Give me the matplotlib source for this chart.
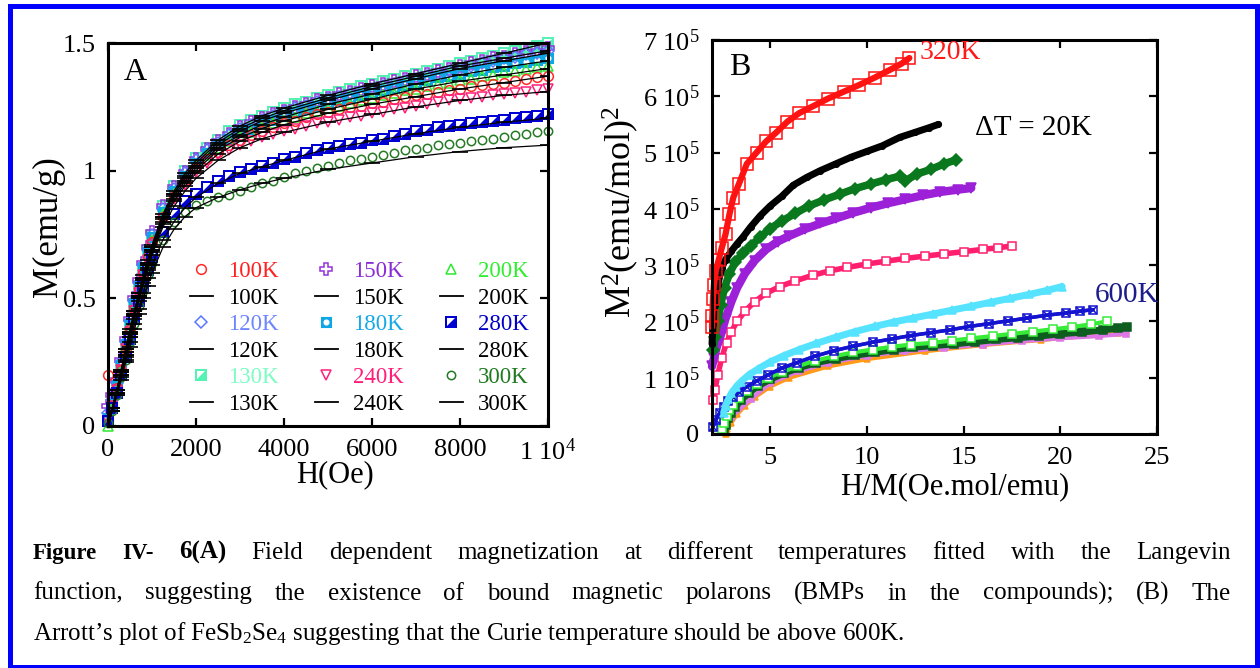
import matplotlib

matplotlib.use("Agg")
import matplotlib.pyplot as plt
import numpy as np
from matplotlib.path import Path
from matplotlib.patches import Rectangle
from matplotlib.lines import Line2D

plt.rcParams.update({
    "font.family": ["Liberation Serif", "DejaVu Serif"],
    "mathtext.fontset": "custom",
    "mathtext.rm": "Liberation Serif",
    "mathtext.it": "Liberation Serif:italic",
    "mathtext.bf": "Liberation Serif:bold",
})

# ---- panel A: M(H) at several temperatures, with Langevin fits ----
H_A = [0, 100, 200, 300, 400, 500, 600, 700, 800, 900, 1000, 1250, 1500, 1750,
       2000, 2250, 2500, 2750, 3000, 3250, 3500, 3750, 4000, 4250, 4500, 4750,
       5000, 5250, 5500, 5750, 6000, 6250, 6500, 6750, 7000, 7250, 7500, 7750,
       8000, 8250, 8500, 8750, 9000, 9250, 9500, 9750, 10000]

M_100K = [0.20, 0.08, 0.15, 0.22, 0.30, 0.38, 0.46, 0.53, 0.60, 0.66, 0.72, 0.82, 0.90, 0.96,
          1.01, 1.045, 1.075, 1.10, 1.12, 1.14, 1.155, 1.17, 1.185, 1.195, 1.21, 1.22,
          1.23, 1.24, 1.25, 1.255, 1.265, 1.27, 1.28, 1.29, 1.295, 1.30, 1.31, 1.315,
          1.32, 1.33, 1.335, 1.34, 1.345, 1.35, 1.36, 1.365, 1.37]
M_120K = [0.05, 0.10, 0.17, 0.25, 0.33, 0.41, 0.49, 0.56, 0.63, 0.69, 0.75, 0.85, 0.93, 0.99,
          1.04, 1.08, 1.11, 1.14, 1.165, 1.18, 1.20, 1.215, 1.23, 1.245, 1.255, 1.27,
          1.28, 1.29, 1.30, 1.31, 1.32, 1.33, 1.34, 1.35, 1.36, 1.37, 1.38, 1.39,
          1.40, 1.41, 1.42, 1.43, 1.44, 1.445, 1.455, 1.46, 1.47]
M_130K = [0.02, 0.08, 0.15, 0.23, 0.31, 0.39, 0.47, 0.55, 0.62, 0.69, 0.75, 0.86, 0.94, 1.00,
          1.05, 1.09, 1.12, 1.155, 1.18, 1.20, 1.215, 1.23, 1.245, 1.26, 1.27, 1.285,
          1.295, 1.31, 1.32, 1.33, 1.34, 1.35, 1.36, 1.37, 1.38, 1.39, 1.40, 1.41,
          1.42, 1.43, 1.44, 1.45, 1.46, 1.47, 1.48, 1.49, 1.50]
M_150K = [0.08, 0.12, 0.18, 0.26, 0.34, 0.42, 0.50, 0.57, 0.64, 0.70, 0.76, 0.86, 0.935, 0.995,
          1.045, 1.085, 1.115, 1.145, 1.17, 1.19, 1.205, 1.22, 1.235, 1.25, 1.26, 1.275,
          1.285, 1.30, 1.31, 1.32, 1.33, 1.34, 1.35, 1.36, 1.37, 1.38, 1.39, 1.40,
          1.41, 1.42, 1.43, 1.44, 1.445, 1.455, 1.465, 1.47, 1.48]
M_180K = [0.03, 0.09, 0.16, 0.24, 0.32, 0.40, 0.48, 0.55, 0.62, 0.68, 0.74, 0.84, 0.92, 0.98,
          1.03, 1.07, 1.10, 1.125, 1.15, 1.165, 1.185, 1.20, 1.215, 1.23, 1.24, 1.255,
          1.265, 1.275, 1.285, 1.295, 1.305, 1.315, 1.325, 1.335, 1.345, 1.355, 1.365, 1.37,
          1.38, 1.39, 1.395, 1.405, 1.41, 1.42, 1.425, 1.435, 1.44]
M_200K = [0.00, 0.07, 0.14, 0.22, 0.30, 0.38, 0.46, 0.54, 0.61, 0.67, 0.73, 0.83, 0.91, 0.97,
          1.02, 1.06, 1.09, 1.115, 1.135, 1.15, 1.17, 1.185, 1.20, 1.21, 1.225, 1.235,
          1.245, 1.255, 1.265, 1.275, 1.285, 1.295, 1.305, 1.315, 1.32, 1.33, 1.34, 1.345,
          1.355, 1.36, 1.37, 1.375, 1.385, 1.39, 1.40, 1.405, 1.41]
M_240K = [0.02, 0.08, 0.14, 0.22, 0.30, 0.37, 0.45, 0.52, 0.59, 0.65, 0.71, 0.81, 0.89, 0.945,
          0.995, 1.03, 1.06, 1.08, 1.10, 1.115, 1.13, 1.145, 1.155, 1.165, 1.175, 1.185,
          1.19, 1.20, 1.21, 1.215, 1.225, 1.23, 1.24, 1.245, 1.255, 1.26, 1.27, 1.275,
          1.28, 1.285, 1.29, 1.295, 1.30, 1.305, 1.31, 1.315, 1.32]
M_280K = [0.02, 0.07, 0.13, 0.20, 0.27, 0.34, 0.42, 0.49, 0.55, 0.61, 0.66, 0.76, 0.83, 0.88,
          0.91, 0.935, 0.96, 0.98, 0.995, 1.005, 1.02, 1.03, 1.045, 1.055, 1.07, 1.08,
          1.09, 1.095, 1.105, 1.11, 1.12, 1.125, 1.135, 1.145, 1.155, 1.16, 1.17, 1.175,
          1.18, 1.185, 1.19, 1.195, 1.20, 1.205, 1.21, 1.215, 1.22]
M_300K = [0.01, 0.06, 0.12, 0.19, 0.26, 0.33, 0.40, 0.47, 0.53, 0.59, 0.64, 0.73, 0.80, 0.84,
          0.865, 0.88, 0.895, 0.905, 0.92, 0.935, 0.95, 0.96, 0.975, 0.99, 1.00, 1.01,
          1.02, 1.03, 1.04, 1.045, 1.055, 1.06, 1.07, 1.08, 1.085, 1.09, 1.10, 1.105,
          1.11, 1.115, 1.12, 1.125, 1.13, 1.14, 1.145, 1.15, 1.155]

H_FIT = [0, 100, 200, 300, 400, 500, 600, 700, 800, 900, 1000, 1250, 1500, 1750,
         2000, 2500, 3000, 3500, 4000, 5000, 6000, 7000, 8000, 9000, 10000]
FIT_100K = [0.0, 0.07, 0.13, 0.20, 0.28, 0.35, 0.43, 0.50, 0.56, 0.62, 0.68, 0.79, 0.88, 0.94,
            0.99, 1.065, 1.115, 1.15, 1.18, 1.225, 1.26, 1.29, 1.32, 1.345, 1.37]
FIT_120K = [0.0, 0.07, 0.14, 0.21, 0.29, 0.37, 0.44, 0.51, 0.58, 0.64, 0.70, 0.82, 0.91, 0.97,
            1.02, 1.10, 1.155, 1.195, 1.225, 1.275, 1.32, 1.36, 1.40, 1.43, 1.46]
FIT_130K = [0.0, 0.07, 0.14, 0.22, 0.30, 0.38, 0.45, 0.52, 0.59, 0.65, 0.71, 0.83, 0.92, 0.99,
            1.04, 1.12, 1.175, 1.215, 1.245, 1.295, 1.34, 1.38, 1.42, 1.46, 1.50]
FIT_150K = [0.0, 0.07, 0.14, 0.22, 0.30, 0.37, 0.45, 0.52, 0.58, 0.64, 0.70, 0.82, 0.91, 0.98,
            1.03, 1.11, 1.165, 1.205, 1.235, 1.285, 1.33, 1.37, 1.41, 1.44, 1.47]
FIT_180K = [0.0, 0.07, 0.14, 0.21, 0.29, 0.36, 0.44, 0.51, 0.57, 0.63, 0.69, 0.81, 0.90, 0.96,
            1.01, 1.09, 1.14, 1.18, 1.21, 1.26, 1.30, 1.34, 1.375, 1.405, 1.43]
FIT_200K = [0.0, 0.07, 0.14, 0.21, 0.28, 0.36, 0.43, 0.50, 0.57, 0.63, 0.69, 0.80, 0.89, 0.95,
            1.00, 1.08, 1.13, 1.165, 1.195, 1.24, 1.28, 1.32, 1.35, 1.375, 1.40]
FIT_240K = [0.0, 0.07, 0.13, 0.20, 0.27, 0.35, 0.42, 0.49, 0.55, 0.61, 0.67, 0.78, 0.86, 0.92,
            0.97, 1.04, 1.09, 1.125, 1.15, 1.19, 1.22, 1.25, 1.275, 1.295, 1.31]
FIT_280K = [0.0, 0.06, 0.12, 0.19, 0.26, 0.33, 0.40, 0.46, 0.52, 0.58, 0.63, 0.73, 0.80, 0.855,
            0.895, 0.95, 0.99, 1.015, 1.04, 1.085, 1.115, 1.145, 1.17, 1.19, 1.205]
FIT_300K = [0.0, 0.06, 0.12, 0.18, 0.25, 0.31, 0.38, 0.44, 0.50, 0.55, 0.60, 0.70, 0.77, 0.82,
            0.855, 0.895, 0.925, 0.95, 0.97, 1.005, 1.03, 1.055, 1.075, 1.09, 1.10]

TEMPS_A = ["100K", "120K", "130K", "150K", "180K", "240K", "200K", "280K", "300K"]

# ---- panel B: Arrott plot, M^2 in units of 1e5 (emu/mol)^2 ----
X_320K = [2.0, 2.02, 2.05, 2.1, 2.2, 2.35, 2.5, 2.7, 2.9, 3.1, 3.4, 3.8, 4.3, 4.8, 5.3, 5.9,
          6.5, 7.2, 8.0, 8.8, 9.6, 10.4, 11.2, 11.8, 12.2]
Y_320K = [1.9, 2.1, 2.4, 2.65, 2.9, 3.1, 3.3, 3.55, 3.9, 4.2, 4.45, 4.8, 5.0, 5.2, 5.35, 5.55,
          5.7, 5.82, 5.96, 6.08, 6.2, 6.33, 6.47, 6.58, 6.68]
X_340K = [2.0, 2.05, 2.15, 2.3, 2.5, 2.7, 3.0, 3.3, 3.6, 4.0, 4.5, 5.0, 5.6, 6.2, 6.9, 7.6,
          8.4, 9.2, 10.0, 10.8, 11.7, 12.5, 13.2, 13.7]
Y_340K = [1.6, 1.95, 2.3, 2.65, 2.95, 3.1, 3.25, 3.38, 3.5, 3.68, 3.88, 4.05, 4.22, 4.42, 4.56,
          4.68, 4.8, 4.92, 5.02, 5.12, 5.27, 5.36, 5.44, 5.5]
X_360K = [2.05, 2.15, 2.3, 2.45, 2.65, 2.9, 3.2, 3.6, 4.0, 4.5, 5.0, 5.6, 6.3, 7.0, 7.8, 8.6,
          9.4, 10.2, 11.0, 11.7, 12.0, 12.6, 13.3, 14.0, 14.6]
Y_360K = [1.5, 1.72, 2.0, 2.3, 2.6, 2.85, 3.05, 3.22, 3.34, 3.5, 3.65, 3.78, 3.92, 4.05, 4.16,
          4.26, 4.36, 4.44, 4.52, 4.58, 4.5, 4.62, 4.7, 4.8, 4.87]
X_380K = [2.0, 2.1, 2.25, 2.45, 2.7, 3.0, 3.3, 3.7, 4.2, 4.8, 5.4, 6.0, 6.8, 7.6, 8.4, 9.3,
          10.2, 11.1, 12.0, 12.9, 13.8, 14.7, 15.4]
Y_380K = [1.2, 1.35, 1.55, 1.75, 2.05, 2.35, 2.6, 2.85, 3.08, 3.28, 3.42, 3.52, 3.64, 3.74,
          3.83, 3.93, 4.02, 4.1, 4.17, 4.24, 4.3, 4.34, 4.37]
X_400K = [2.05, 2.15, 2.3, 2.5, 2.75, 3.0, 3.3, 3.7, 4.2, 4.8, 5.5, 6.3, 7.2, 8.1, 9.0, 10.0,
          11.0, 12.0, 13.0, 14.0, 15.0, 16.0, 16.8, 17.5]
Y_400K = [0.6, 0.78, 1.05, 1.35, 1.62, 1.82, 2.0, 2.18, 2.35, 2.5, 2.62, 2.72, 2.82, 2.9, 2.96,
          3.02, 3.07, 3.12, 3.16, 3.2, 3.24, 3.28, 3.31, 3.34]
X_420K = [2.6, 2.7, 2.85, 3.0, 3.25, 3.5, 3.9, 4.4, 5.0, 5.7, 6.5, 7.4, 8.4, 9.4, 10.4, 11.4,
          12.4, 13.4, 14.4, 15.4, 16.4, 17.4, 18.4, 19.3, 20.1]
Y_420K = [0.38, 0.5, 0.62, 0.72, 0.84, 0.93, 1.05, 1.16, 1.28, 1.39, 1.5, 1.61, 1.72, 1.82, 1.91,
          1.99, 2.06, 2.13, 2.2, 2.27, 2.34, 2.41, 2.48, 2.55, 2.62]
X_600K = [2.05, 2.2, 2.4, 2.6, 2.85, 3.1, 3.4, 3.8, 4.3, 4.9, 5.6, 6.4, 7.3, 8.3, 9.3, 10.3,
          11.3, 12.3, 13.3, 14.3, 15.3, 16.3, 17.3, 18.3, 19.3, 20.3, 21.0, 21.7]
Y_600K = [0.13, 0.25, 0.38, 0.48, 0.58, 0.66, 0.75, 0.84, 0.94, 1.05, 1.17, 1.27, 1.38, 1.48,
          1.56, 1.63, 1.69, 1.75, 1.8, 1.85, 1.91, 1.96, 2.01, 2.06, 2.11, 2.15, 2.18, 2.21]
X_LIME = [2.5, 2.6, 2.75, 2.9, 3.1, 3.4, 3.8, 4.3, 4.9, 5.6, 6.4, 7.3, 8.3, 9.3, 10.3, 11.3,
          12.3, 13.4, 14.4, 15.4, 16.5, 17.5, 18.6, 19.6, 20.6, 21.6, 22.4]
Y_LIME = [0.08, 0.2, 0.32, 0.42, 0.52, 0.64, 0.76, 0.88, 1.0, 1.1, 1.2, 1.3, 1.38, 1.45, 1.5,
          1.55, 1.59, 1.62, 1.66, 1.7, 1.74, 1.78, 1.82, 1.86, 1.9, 1.95, 2.0]
X_DKGREEN = [2.6, 2.7, 2.85, 3.0, 3.2, 3.5, 3.9, 4.4, 5.0, 5.7, 6.5, 7.4, 8.4, 9.4, 10.4, 11.4,
             12.4, 13.4, 14.5, 15.6, 16.7, 17.8, 18.9, 20.0, 21.1, 22.2, 23.0, 23.45]
Y_DKGREEN = [0.05, 0.16, 0.28, 0.38, 0.48, 0.6, 0.73, 0.86, 0.97, 1.08, 1.18, 1.27, 1.34, 1.4,
             1.45, 1.5, 1.54, 1.57, 1.6, 1.64, 1.68, 1.71, 1.74, 1.78, 1.81, 1.85, 1.88, 1.9]
X_MAGENTA = [3.0, 4.0, 5.0, 6.5, 8.0, 10.0, 12.0, 14.0, 16.0, 18.0, 20.0, 22.0, 23.4]
Y_MAGENTA = [0.3, 0.62, 0.9, 1.12, 1.26, 1.39, 1.47, 1.53, 1.59, 1.65, 1.7, 1.74, 1.78]
X_ORANGE = [2.7, 2.8, 3.0, 3.3, 3.7, 4.2, 5.0, 6.0, 8.0, 10.0, 13.0, 16.0, 19.0, 22.0, 23.0]
Y_ORANGE = [0.0, 0.08, 0.2, 0.35, 0.5, 0.65, 0.84, 1.0, 1.2, 1.33, 1.47, 1.58, 1.67, 1.76, 1.8]

CAPTION_1 = ["Figure", "IV-", "6(A)", "Field", "dependent", "magnetization", "at", "different",
             "temperatures", "fitted", "with", "the", "Langevin"]
CAPTION_2 = ["function,", "suggesting", "the", "existence", "of", "bound", "magnetic", "polarons",
             "(BMPs", "in", "the", "compounds);", "(B)", "The"]
CAPTION_3 = ("Arrott\u2019s plot of FeSb$_2$Se$_4$ suggesting that the Curie temperature "
             "should be above 600K.")

W, H = 1260, 668


def tri_square():
    # open square outline with the lower-right half filled
    t = 0.74
    verts = [(-1, -1), (1, -1), (1, 1), (-1, 1), (-1, -1),
             (-t, -t), (-t, t), (t, t), (t, -t), (-t, -t),
             (-t, -t), (t, -t), (t, t), (-t, -t)]
    codes = ([Path.MOVETO] + [Path.LINETO] * 3 + [Path.CLOSEPOLY]) * 2 + \
            [Path.MOVETO, Path.LINETO, Path.LINETO, Path.CLOSEPOLY]
    return Path(verts, codes)


def holed_square():
    # filled square with a round hole
    ang = np.linspace(0, -2 * np.pi, 25)
    hole = [(0.55 * np.cos(a), 0.55 * np.sin(a)) for a in ang]
    verts = [(-1, -1), (1, -1), (1, 1), (-1, 1), (-1, -1)] + hole
    codes = [Path.MOVETO] + [Path.LINETO] * 3 + [Path.CLOSEPOLY] + \
            [Path.MOVETO] + [Path.LINETO] * (len(hole) - 2) + [Path.CLOSEPOLY]
    return Path(verts, codes)


def px_axes(fig, left, top, right, bottom):
    return fig.add_axes([left / W, 1 - bottom / H, (right - left) / W, (bottom - top) / H])


def style_axes(ax):
    for s in ax.spines.values():
        s.set_linewidth(2.2)
    ax.tick_params(which="both", direction="in", length=6, width=1.6, top=True, right=True,
                   labelsize=19, pad=9)


fig = plt.figure(figsize=(W / 100, H / 100), dpi=100)

# ================= panel A =================
axA = px_axes(fig, 108, 43, 548, 426)
style_axes(axA)

data_A = {
    "100K": (M_100K, FIT_100K), "120K": (M_120K, FIT_120K), "130K": (M_130K, FIT_130K),
    "150K": (M_150K, FIT_150K), "180K": (M_180K, FIT_180K), "200K": (M_200K, FIT_200K),
    "240K": (M_240K, FIT_240K), "280K": (M_280K, FIT_280K), "300K": (M_300K, FIT_300K),
}
styles_A = {
    "100K": dict(color="#ff2a2a", marker="o", mfc="none", ms=7),
    "120K": dict(color="#5a78ff", marker="D", mfc="none", ms=6),
    "130K": dict(color="#55f2b4", marker=tri_square(), mew=0, ms=8),
    "150K": dict(color="#9433d9", marker="P", mfc="none", ms=8),
    "180K": dict(color="#0fa6e6", marker=holed_square(), mew=0, ms=8),
    "200K": dict(color="#2ee82e", marker="^", mfc="none", ms=7),
    "240K": dict(color="#ff1f7a", marker="v", mfc="none", ms=7),
    "280K": dict(color="#0000d2", marker=tri_square(), mew=0, ms=8),
    "300K": dict(color="#237a23", marker="o", mfc="none", ms=6),
}
text_colors_A = {"100K": "#ff2020", "120K": "#6d86ff", "130K": "#7dfcc4", "150K": "#8a2bd6",
                 "180K": "#14a9e6", "200K": "#30ee30", "240K": "#ff1f7a", "280K": "#0000c8",
                 "300K": "#1f7a1f"}

handles_A = {}
for temp in ["130K", "150K", "120K", "180K", "200K", "100K", "240K", "280K", "300K"]:
    st = dict(styles_A[temp])
    kw = dict(linestyle="none", clip_on=False, zorder=2)
    if "mew" not in st:
        kw["mew"] = 1.1
    if "mfc" not in st and st.get("mew", 1) == 0:
        st["mfc"] = st["color"]
    (h,) = axA.plot(H_A, data_A[temp][0], **st, **kw)
    handles_A[temp] = h
for temp in TEMPS_A:
    axA.plot(H_FIT, data_A[temp][1], color="black", lw=0.9, marker="_", ms=11, mew=1.2,
             zorder=3)

axA.set_xlim(0, 10000)
axA.set_ylim(0, 1.5)
axA.set_xticks([0, 2000, 4000, 6000, 8000, 10000])
axA.set_xticklabels(["0", "2000", "4000", "6000", "8000", r"1 10$^{4}$"])
axA.set_yticks([0, 0.5, 1, 1.5])
axA.set_yticklabels(["0", "0.5", "1", "1.5"])
axA.set_xlabel("H(Oe)", fontsize=22, va="center")
axA.xaxis.set_label_coords(0.516, -0.128)
axA.set_ylabel("M(emu/g)", fontsize=25, va="center")
axA.yaxis.set_label_coords(-0.135, 0.52)
axA.text(0.061, 0.922, "A", transform=axA.transAxes, fontsize=23, ha="center", va="center")

leg_order = ["100K", "120K", "130K", "150K", "180K", "240K", "200K", "280K", "300K"]
leg_handles, leg_labels, leg_colors = [], [], []
for temp in leg_order:
    leg_handles += [handles_A[temp], Line2D([], [], color="black", lw=1.3)]
    leg_labels += [temp, temp]
    leg_colors += [text_colors_A[temp], "black"]
leg = axA.legend(leg_handles, leg_labels, ncol=3, loc="upper left",
                 bbox_to_anchor=(190 / W, 1 - 261 / H), bbox_transform=fig.transFigure,
                 frameon=False, fontsize=16.5, handlelength=1.0, handletextpad=0.66,
                 columnspacing=1.58, labelspacing=0.24, borderpad=0, borderaxespad=0,
                 numpoints=1)
for t, c in zip(leg.get_texts(), leg_colors):
    t.set_color(c)

# ================= panel B =================
axB = px_axes(fig, 712, 40, 1157, 434)
style_axes(axB)

series_B = [
    (X_ORANGE, Y_ORANGE, dict(color="#ff9a1a", marker="^", ms=5)),
    (X_MAGENTA, Y_MAGENTA, dict(color="#dd77e6", marker="s", ms=4)),
    (X_DKGREEN, Y_DKGREEN, dict(color="#0d5c20", marker="s", ms=6)),
    (X_LIME, Y_LIME, dict(color="#36ec36", marker="s", mfc="white", ms=6)),
    (X_600K, Y_600K, dict(color="#1414d0", marker="x", ms=6)),
    (X_600K, Y_600K, dict(color="#1414d0", marker="s", mfc="none", ms=6)),
    (X_420K, Y_420K, dict(color="#55e3ff", marker="^", ms=6)),
    (X_400K, Y_400K, dict(color="#ff1f6e", marker="s", mfc="white", ms=6)),
    (X_380K, Y_380K, dict(color="#9b20d8", marker="v", ms=7)),
    (X_360K, Y_360K, dict(color="#0a781c", marker="D", ms=6)),
    (X_340K, Y_340K, dict(color="black", marker="o", mfc="none", ms=4)),
    (X_320K, Y_320K, dict(color="#ff1212", marker="s", mfc="none", ms=8)),
]
band_width = {"#ff1212": 4.5, "black": 5, "#0a781c": 5.5, "#9b20d8": 6, "#ff1f6e": 4,
              "#55e3ff": 5, "#1414d0": 2.5, "#36ec36": 3, "#0d5c20": 5, "#dd77e6": 3,
              "#ff9a1a": 3}
for xs, ys, st in series_B:
    axB.plot(xs, ys, color=st["color"], lw=band_width[st["color"]], solid_capstyle="round",
             zorder=2, clip_on=False)
    axB.plot(xs, ys, linestyle="none", mew=1.1, zorder=2, clip_on=False, **st)

axB.set_xlim(2, 25)
axB.set_ylim(0, 7)
axB.set_xticks([5, 10, 15, 20, 25])
axB.set_yticks(range(8))
axB.set_yticklabels(["0"] + [rf"{k} 10$^{{5}}$" for k in range(1, 8)])
axB.set_xlabel("H/M(Oe.mol/emu)", fontsize=22, va="center")
axB.xaxis.set_label_coords(0.546, -0.134)
axB.set_ylabel(r"M$^{2}$(emu/mol)$^{2}$", fontsize=26, va="center")
axB.yaxis.set_label_coords(-0.205, 0.564)
axB.text(0.063, 0.93, "B", transform=axB.transAxes, fontsize=23, ha="center", va="center")
axB.text(X_320K[-1] + 0.55, Y_320K[-1] + 0.1, "320K", color="#ff1a1a", fontsize=20,
         va="center")
axB.text(15.6, 5.44, "\u0394T = 20K", color="black", fontsize=21, va="center")
axB.text(X_600K[-1] + 0.1, Y_600K[-1] + 0.26, "600K", color="#1c1c8c", fontsize=21,
         va="center")

# ================= caption =================
renderer = fig.canvas.get_renderer()
CAP_SIZE = 18


def justified(words, baseline, x0, x1, bold=0):
    texts = []
    for i, w in enumerate(words):
        size = CAP_SIZE
        if i < bold:
            size = CAP_SIZE - 1.5 if i < bold - 1 else CAP_SIZE
        texts.append(fig.text(0, 1 - baseline / H, w, fontsize=size, va="baseline",
                              fontweight="bold" if i < bold else "normal"))
    widths = [t.get_window_extent(renderer).width for t in texts]
    gap = (x1 - x0 - sum(widths)) / (len(words) - 1)
    x = x0
    for t, w in zip(texts, widths):
        t.set_x(x / W)
        x += w + gap


justified(CAPTION_1, 559, 33, 1231, bold=3)
justified(CAPTION_2, 599.5, 33, 1231)
fig.text(33 / W, 1 - 640 / H, CAPTION_3, fontsize=CAP_SIZE, va="baseline")

# blue frame round the whole figure
fig.add_artist(Rectangle((9.5 / W, 1.5 / H), (1257 - 9.5) / W, (662.5 - 1.5) / H,
                         transform=fig.transFigure, fill=False, edgecolor="#0000ff",
                         linewidth=3.6))

fig.savefig("out.png", dpi=100)
